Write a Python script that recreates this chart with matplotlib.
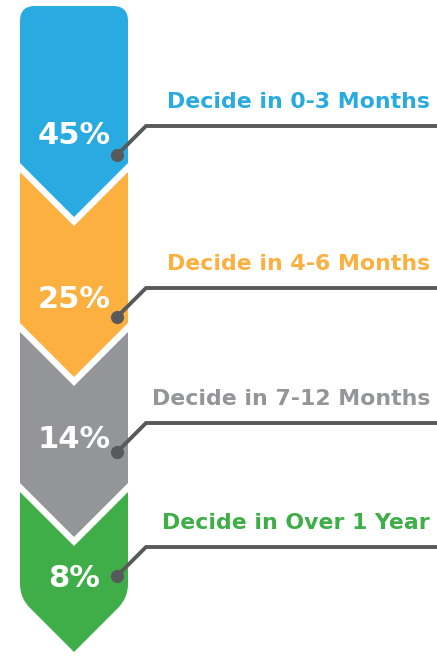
import matplotlib
matplotlib.use('Agg')
import matplotlib.pyplot as plt
from matplotlib.path import Path
from matplotlib.patches import PathPatch

# data
shares = [45, 25, 14, 8]
labels = ['Decide in 0-3 Months', 'Decide in 4-6 Months',
          'Decide in 7-12 Months', 'Decide in Over 1 Year']
colors = ['#29abe2', '#fbb040', '#939598', '#3fae49']

# layout (pixel units, y down)
W, H = 437, 656
x0, x1 = 20, 128
xm = (x0 + x1) / 2
half = (x1 - x0) / 2
side_top = [6, 172, 332, 492]       # where straight sides start
side_bot = [163, 323, 483, 598]     # where straight sides end
line_y = [126, 288, 423, 547]       # horizontal leader line
pct_y = [144, 308, 448, 587]        # baseline of the % text
r = 15                               # corner radius

fig = plt.figure(figsize=(W / 100, H / 100), dpi=100)
ax = fig.add_axes([0, 0, 1, 1])
ax.set_xlim(0, W)
ax.set_ylim(H, 0)
ax.axis('off')

n = len(shares)
for i in range(n):
    t, b = side_top[i], side_bot[i]
    verts, codes = [], []
    # top edge
    if i == 0:
        verts += [(x0, t + r), (x0, t), (x0 + r, t),
                  (x1 - r, t), (x1, t), (x1, t + r)]
        codes += [Path.MOVETO, Path.CURVE3, Path.CURVE3,
                  Path.LINETO, Path.CURVE3, Path.CURVE3]
    else:
        verts += [(x0, t), (xm, t + half), (x1, t)]
        codes += [Path.MOVETO, Path.LINETO, Path.LINETO]
    # bottom edge
    if i == n - 1:
        c = 14
        verts += [(x1, b - c), (x1, b), (x1 - c * 0.7, b + c * 0.7),
                  (xm, b + half),
                  (x0 + c * 0.7, b + c * 0.7), (x0, b), (x0, b - c)]
        codes += [Path.LINETO, Path.CURVE3, Path.CURVE3,
                  Path.LINETO,
                  Path.LINETO, Path.CURVE3, Path.CURVE3]
    else:
        verts += [(x1, b), (xm, b + half), (x0, b)]
        codes += [Path.LINETO, Path.LINETO, Path.LINETO]
    verts.append(verts[0])
    codes.append(Path.CLOSEPOLY)
    ax.add_patch(PathPatch(Path(verts, codes), facecolor=colors[i],
                           edgecolor='none', zorder=1))

    # percentage
    ax.text(xm, pct_y[i], f'{shares[i]}%', color='white',
            fontsize=22, fontweight='bold', family='DejaVu Sans',
            ha='center', va='baseline', zorder=3)

    # leader line and dot
    ly = line_y[i]
    ax.plot([117, 146, W + 5], [ly + 29, ly, ly], color='#58595b',
            lw=2.8, solid_joinstyle='miter', zorder=2)
    ax.scatter([117], [ly + 29], s=90, color='#58595b', zorder=4,
               linewidths=0)

    # label
    ax.text(430, ly - 18, labels[i], color=colors[i], fontsize=15.8,
            fontweight='bold', family='DejaVu Sans',
            ha='right', va='baseline', zorder=3)

fig.savefig('out.png', dpi=100)
